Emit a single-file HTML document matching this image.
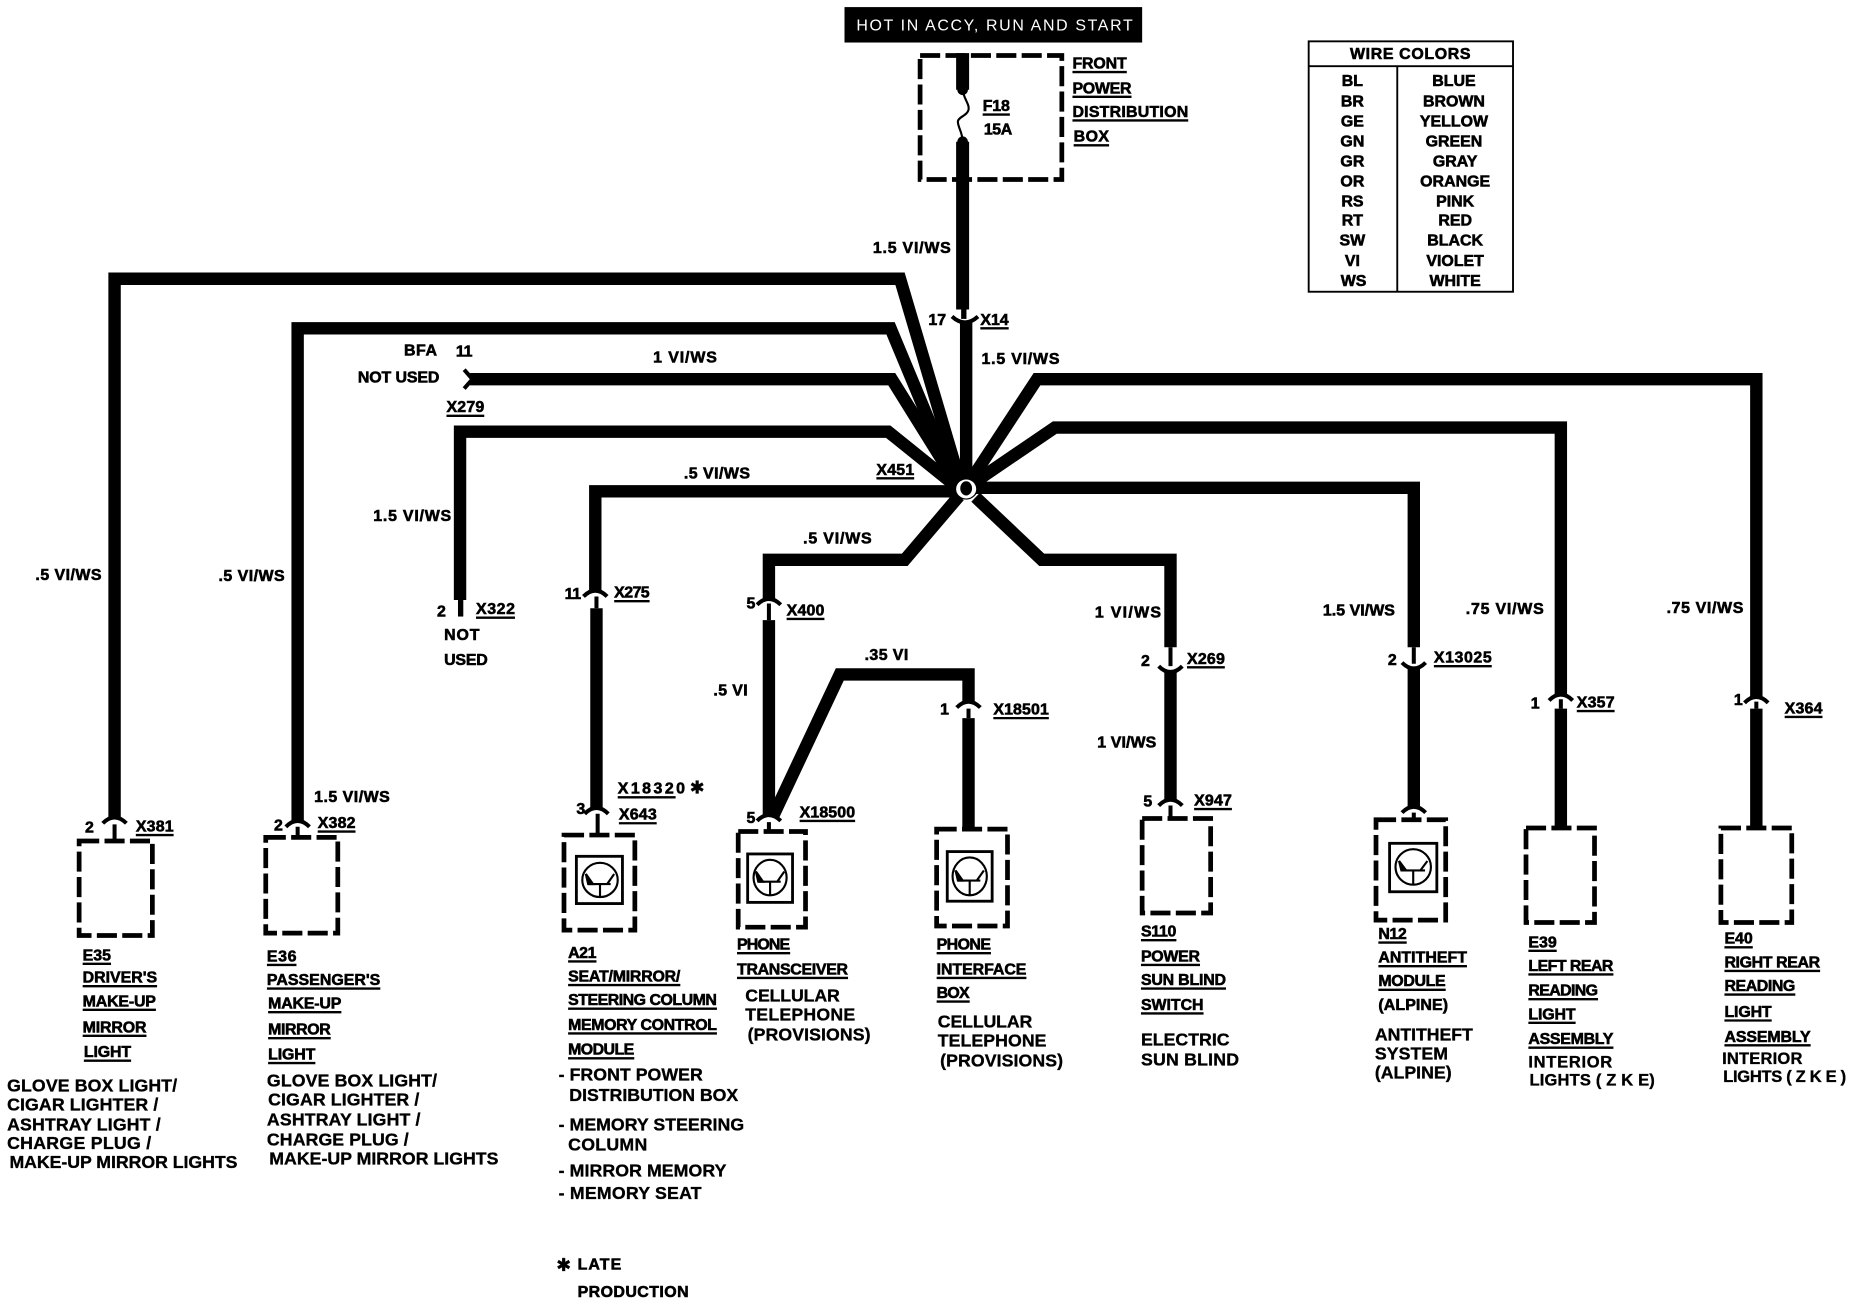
<!DOCTYPE html>
<html><head><meta charset="utf-8"><style>
html,body{margin:0;padding:0;background:#fff}
svg{display:block}
text{font-family:"Liberation Sans",sans-serif;font-weight:bold;fill:#000;stroke:#000;stroke-width:.5;font-size:13.5px}
.d{font-size:15px;stroke-width:.3}
.a{font-family:"DejaVu Sans",sans-serif;font-size:15px;stroke-width:.3}
</style></head><body>
<svg xmlns="http://www.w3.org/2000/svg" width="1852" height="1312" viewBox="0 0 1568 1110.8">
<rect width="1568" height="1111" fill="#fff"/>
<g fill="none" stroke="#000" stroke-linejoin="miter" stroke-linecap="butt">
<g stroke-width="10.5">
<path d="M815 45V76M815 120V262" stroke-width="11"/>
<path d="M818 273V412"/>
<path d="M97 692V236H762L814 412"/>
<path d="M252 695V278H754L809 410"/>
<path d="M398 321H755L811 411"/>
<path d="M389.5 508V365.500H752L811 413"/>
<path d="M504 500V416H812"/>
<path d="M651 507V474H766L812 420"/>
<path d="M826 421L882 474H991V548"/>
<path d="M826 413H1197V548"/>
<path d="M824 409L893 362H1321.500V588"/>
<path d="M821 408L878 321H1487V590"/>
<path d="M505 515V684"/>
<path d="M651 525V690"/>
<path d="M655 690L711 571H820V594"/>
<path d="M820 608V702"/>
<path d="M991 569V677"/>
<path d="M1197 566V683"/>
<path d="M1321.500 600V700"/>
<path d="M1487 600V700"/>
</g>
<path d="M815 76C816 84 821 88 820 93C819 98 811 99 811 103C811 108 815 112 815 120" stroke-width="1.8"/>
<g stroke-width="3.4">
<path d="M87 697Q97 687 107 697M97 698V712"/>
<path d="M242 700Q252 690 262 700M252 700V708"/>
<path d="M495 689Q505 679 515 689M506 689V707"/>
<path d="M641 695Q651 685 661 695M651 696V703"/>
<path d="M810 599Q820 589 830 599M820 600V608"/>
<path d="M981 682Q991 672 1001 682M991 682V692"/>
<path d="M1187 688Q1197 678 1207 688M1197 688V693"/>
<path d="M494 505Q504 495 514 505M505 505V515"/>
<path d="M641 512Q651 502 661 512M651 511V525"/>
<path d="M1311.500 593Q1321.500 583 1331.500 593M1321.500 592V600"/>
<path d="M1477 595Q1487 585 1497 595M1487 594V600"/>
<path d="M806 268Q817 278 828 268"/>
<path d="M981 564Q991 574 1001 564M991 548V564"/>
<path d="M1187 561Q1197 571 1207 561M1197 548V562"/>
<path d="M393 313L400 321L393 329"/>
<path d="M390 508V522" stroke-width="4.500"/>
<path d="M816 262V270" stroke-width="4.500"/>
</g>
<g stroke-width="4" stroke-dasharray="17 4.500">
<rect x="779" y="47" width="120" height="105"/>
<rect x="67" y="712" width="62" height="80"/>
<rect x="225" y="709" width="61" height="81"/>
<rect x="477.500" y="707" width="60" height="80.500"/>
<rect x="625" y="704" width="57" height="81"/>
<rect x="793" y="702" width="60" height="82"/>
<rect x="967" y="693" width="58" height="80"/>
<rect x="1165" y="694" width="59" height="85"/>
<rect x="1292" y="701" width="58" height="80"/>
<rect x="1457" y="701" width="60" height="80"/>
</g>
<g stroke-width="1.800">
<g transform="translate(508 745)"><rect x="-20" y="-20" width="39" height="40" stroke-width="2.400"/><ellipse rx="15" ry="14.500"/><path d="M-10 3.500H9M0 3.500V14.500M-6 3.500L-12 -5M6 3.500L12 -5"/><path d="M-10 3.500L-12 -5L-6 3.500Z" fill="#000"/></g>
<g transform="translate(652 743)"><rect x="-19" y="-20" width="38" height="41" stroke-width="2.400"/><ellipse rx="14" ry="15"/><path d="M-10 3.500H9M0 3.500V15M-6 3.500L-12 -5M6 3.500L12 -5"/><path d="M-10 3.500L-12 -5L-6 3.500Z" fill="#000"/></g>
<g transform="translate(821 742)"><rect x="-19" y="-21" width="38" height="42" stroke-width="2.400"/><ellipse rx="14.500" ry="16"/><path d="M-10 3.500H9M0 3.500V16M-6 3.500L-12 -5M6 3.500L12 -5"/><path d="M-10 3.500L-12 -5L-6 3.500Z" fill="#000"/></g>
<g transform="translate(1196.500 734)"><rect x="-20" y="-20" width="40" height="41" stroke-width="2.400"/><ellipse rx="15" ry="15"/><path d="M-10 3H10M0 3V15M-6 3L-12 -5M6 3L12 -5"/><path d="M-10 3L-12 -5L-6 3Z" fill="#000"/></g>
</g>
<rect x="1108" y="35" width="173" height="212" stroke-width="1.600"/>
<path d="M1108 56H1281M1183 56V247" stroke-width="1.600"/>
<path stroke-width="2" d="M908 61h46M908 82h50M908 102h98M909 123h30M832 97h23M830 278h24M378 352h32M742 405h32M403 523h33M520 509h30M666 524h32M841 608h47M1005 565h32M1011 685h32M1214 564h49M1335 602h32M1511 607h32M115 707h32M269 704h32M523 675h49M524 697h32M677 695h47M70 816h24M70 835h63M70 855h62M70 877h54M71 898h40M226 817h25M226 837h96M227 857h62M227 879h53M227 900h40M481 814h24M481 834h95M481 854h126M481 875h126M481 896h56M624 807h45M624 828h94M793 807h46M793 828h76M793 848h28M966 796h30M966 817h50M966 837h72M966 858h53M1167 798h24M1167 818h75M1167 838h57M1294 805h24M1294 825h72M1294 846h59M1294 866h40M1294 887h72M1460 802h24M1460 822h81M1460 842h60M1460 864h40M1460 885h73"/>
</g>
<circle cx="815" cy="76" r="4.500" fill="#000"/>
<circle cx="815" cy="120" r="4.500" fill="#000"/>
<circle cx="818" cy="413" r="10" fill="#000"/>
<ellipse cx="818" cy="414" rx="8.500" ry="8" fill="#fff"/>
<ellipse cx="818" cy="413.500" rx="5" ry="6" fill="#000"/>
<rect x="715" y="6" width="252" height="30" fill="#000"/>
<text x="725" y="26" textLength="234" style="fill:#fff;stroke:none;font-weight:normal">HOT IN ACCY, RUN AND START</text>
<text x="908" y="58" textLength="46">FRONT</text>
<text x="908" y="79" textLength="50">POWER</text>
<text x="908" y="99" textLength="98">DISTRIBUTION</text>
<text x="909" y="120" textLength="30">BOX</text>
<text x="832" y="94" textLength="23">F18</text>
<text x="833" y="114" textLength="24">15A</text>
<text x="739" y="214" textLength="66">1.5  VI/WS</text>
<text x="786" y="275" textLength="15">17</text>
<text x="830" y="275" textLength="24">X14</text>
<text x="831" y="308" textLength="66">1.5  VI/WS</text>
<text x="553" y="307" textLength="54">1 VI/WS</text>
<text x="342" y="301" textLength="28">BFA</text>
<text x="386" y="302" textLength="14">11</text>
<text x="303" y="324" textLength="69">NOT USED</text>
<text x="378" y="349" textLength="32">X279</text>
<text x="316" y="441" textLength="66">1.5  VI/WS</text>
<text x="579" y="405" textLength="56">.5 VI/WS</text>
<text x="742" y="402" textLength="32">X451</text>
<text x="680" y="460" textLength="58">.5  VI/WS</text>
<text x="30" y="491" textLength="56">.5 VI/WS</text>
<text x="185" y="492" textLength="56">.5 VI/WS</text>
<text x="370" y="522">2</text>
<text x="403" y="520" textLength="33">X322</text>
<text x="376" y="542" textLength="30">NOT</text>
<text x="376" y="563" textLength="37">USED</text>
<text x="478" y="507" textLength="14">11</text>
<text x="520" y="506" textLength="30">X275</text>
<text x="632" y="515">5</text>
<text x="666" y="521" textLength="32">X400</text>
<text x="604" y="589" textLength="29">.5 VI</text>
<text x="732" y="559" textLength="37">.35 VI</text>
<text x="796" y="605">1</text>
<text x="841" y="605" textLength="47">X18501</text>
<text x="927" y="523" textLength="56">1  VI/WS</text>
<text x="966" y="564">2</text>
<text x="1005" y="562" textLength="32">X269</text>
<text x="929" y="633" textLength="50">1 VI/WS</text>
<text x="968" y="683">5</text>
<text x="1011" y="682" textLength="32">X947</text>
<text x="1120" y="521" textLength="61">1.5 VI/WS</text>
<text x="1175" y="563">2</text>
<text x="1214" y="561" textLength="49">X13025</text>
<text x="1241" y="520" textLength="66">.75  VI/WS</text>
<text x="1296" y="600">1</text>
<text x="1335" y="599" textLength="32">X357</text>
<text x="1411" y="519" textLength="65">.75  VI/WS</text>
<text x="1468" y="597">1</text>
<text x="1511" y="604" textLength="32">X364</text>
<text x="72" y="705">2</text>
<text x="115" y="704" textLength="32">X381</text>
<text x="232" y="703">2</text>
<text x="269" y="701" textLength="32">X382</text>
<text x="266" y="679" textLength="64">1.5 VI/WS</text>
<text x="523" y="672" textLength="57">X18320</text>
<text class="a" x="584" y="672">✱</text>
<text x="524" y="694" textLength="32">X643</text>
<text x="488" y="689">3</text>
<text x="632" y="697">5</text>
<text x="677" y="692" textLength="47">X18500</text>
<text x="70" y="813" textLength="24">E35</text>
<text x="70" y="832" textLength="63">DRIVER'S</text>
<text x="70" y="852" textLength="62">MAKE-UP</text>
<text x="70" y="874" textLength="54">MIRROR</text>
<text x="71" y="895" textLength="40">LIGHT</text>
<text class="d" x="6" y="924" textLength="144">GLOVE BOX LIGHT/</text>
<text class="d" x="6" y="940" textLength="128">CIGAR LIGHTER /</text>
<text class="d" x="6" y="957" textLength="130">ASHTRAY LIGHT /</text>
<text class="d" x="6" y="973" textLength="122">CHARGE PLUG /</text>
<text class="d" x="8" y="989" textLength="193">MAKE-UP MIRROR LIGHTS</text>
<text x="226" y="814" textLength="25">E36</text>
<text x="226" y="834" textLength="96">PASSENGER'S</text>
<text x="227" y="854" textLength="62">MAKE-UP</text>
<text x="227" y="876" textLength="53">MIRROR</text>
<text x="227" y="897" textLength="40">LIGHT</text>
<text class="d" x="226" y="920" textLength="144">GLOVE BOX LIGHT/</text>
<text class="d" x="227" y="936" textLength="128">CIGAR LIGHTER /</text>
<text class="d" x="226" y="953" textLength="130">ASHTRAY LIGHT /</text>
<text class="d" x="226" y="970" textLength="120">CHARGE PLUG /</text>
<text class="d" x="228" y="986" textLength="194">MAKE-UP MIRROR LIGHTS</text>
<text x="481" y="811" textLength="24">A21</text>
<text x="481" y="831" textLength="95">SEAT/MIRROR/</text>
<text x="481" y="851" textLength="126">STEERING COLUMN</text>
<text x="481" y="872" textLength="126">MEMORY CONTROL</text>
<text x="481" y="893" textLength="56">MODULE</text>
<text class="d" x="473" y="915" textLength="122">- FRONT POWER</text>
<text class="d" x="482" y="932" textLength="143">DISTRIBUTION BOX</text>
<text class="d" x="473" y="957" textLength="157">- MEMORY STEERING</text>
<text class="d" x="481" y="974" textLength="67">COLUMN</text>
<text class="d" x="473" y="996" textLength="142">- MIRROR MEMORY</text>
<text class="d" x="473" y="1015" textLength="121">- MEMORY SEAT</text>
<text class="a" x="471" y="1076">✱</text>
<text x="489" y="1075" textLength="37">LATE</text>
<text x="489" y="1098" textLength="94">PRODUCTION</text>
<text x="624" y="804" textLength="45">PHONE</text>
<text x="624" y="825" textLength="94">TRANSCEIVER</text>
<text class="d" x="631" y="848" textLength="80">CELLULAR</text>
<text class="d" x="631" y="864" textLength="93">TELEPHONE</text>
<text class="d" x="633" y="881" textLength="104">(PROVISIONS)</text>
<text x="793" y="804" textLength="46">PHONE</text>
<text x="793" y="825" textLength="76">INTERFACE</text>
<text x="793" y="845" textLength="28">BOX</text>
<text class="d" x="794" y="870" textLength="80">CELLULAR</text>
<text class="d" x="794" y="886" textLength="92">TELEPHONE</text>
<text class="d" x="796" y="903" textLength="104">(PROVISIONS)</text>
<text x="966" y="793" textLength="30">S110</text>
<text x="966" y="814" textLength="50">POWER</text>
<text x="966" y="834" textLength="72">SUN BLIND</text>
<text x="966" y="855" textLength="53">SWITCH</text>
<text class="d" x="966" y="885" textLength="75">ELECTRIC</text>
<text class="d" x="966" y="902" textLength="83">SUN BLIND</text>
<text x="1167" y="795" textLength="24">N12</text>
<text x="1167" y="815" textLength="75">ANTITHEFT</text>
<text x="1167" y="835" textLength="57">MODULE</text>
<text x="1167" y="855" textLength="59">(ALPINE)</text>
<text class="d" x="1164" y="881" textLength="83">ANTITHEFT</text>
<text class="d" x="1164" y="897" textLength="62">SYSTEM</text>
<text class="d" x="1164" y="913" textLength="65">(ALPINE)</text>
<text x="1294" y="802" textLength="24">E39</text>
<text x="1294" y="822" textLength="72">LEFT REAR</text>
<text x="1294" y="843" textLength="59">READING</text>
<text x="1294" y="863" textLength="40">LIGHT</text>
<text x="1294" y="884" textLength="72">ASSEMBLY</text>
<text class="d" x="1294" y="904" textLength="71" style="font-size:14px">INTERIOR</text>
<text class="d" x="1295" y="919" textLength="106" style="font-size:14px">LIGHTS ( Z K E)</text>
<text x="1460" y="799" textLength="24">E40</text>
<text x="1460" y="819" textLength="81">RIGHT REAR</text>
<text x="1460" y="839" textLength="60">READING</text>
<text x="1460" y="861" textLength="40">LIGHT</text>
<text x="1460" y="882" textLength="73">ASSEMBLY</text>
<text class="d" x="1458" y="901" textLength="68" style="font-size:14px">INTERIOR</text>
<text class="d" x="1459" y="916" textLength="104" style="font-size:14px">LIGHTS ( Z K E )</text>
<g text-anchor="middle">
<text x="1194" y="50" textLength="102">WIRE COLORS</text>
<text x="1145" y="73">BL</text><text x="1231" y="73">BLUE</text>
<text x="1145" y="90">BR</text><text x="1231" y="90">BROWN</text>
<text x="1145" y="107">GE</text><text x="1231" y="107">YELLOW</text>
<text x="1145" y="124">GN</text><text x="1231" y="124">GREEN</text>
<text x="1145" y="141">GR</text><text x="1232" y="141">GRAY</text>
<text x="1145" y="158">OR</text><text x="1232" y="158">ORANGE</text>
<text x="1145" y="175">RS</text><text x="1232" y="175">PINK</text>
<text x="1145" y="191">RT</text><text x="1232" y="191">RED</text>
<text x="1145" y="208">SW</text><text x="1232" y="208">BLACK</text>
<text x="1145" y="225">VI</text><text x="1232" y="225">VIOLET</text>
<text x="1146" y="242">WS</text><text x="1232" y="242">WHITE</text>
</g>
</svg>
</body></html>
